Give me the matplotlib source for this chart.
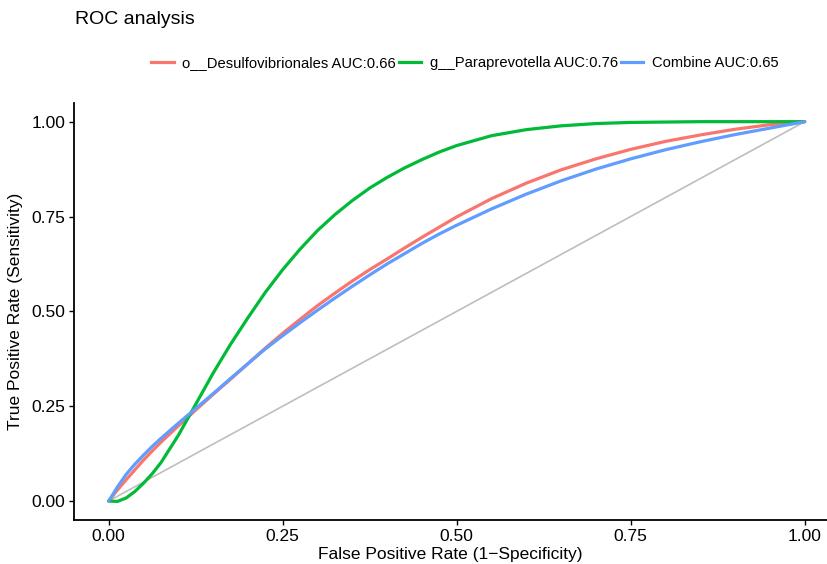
import matplotlib
matplotlib.use("Agg")
import matplotlib.pyplot as plt
from matplotlib.lines import Line2D

plt.rcParams['font.family'] = ['Liberation Sans', 'DejaVu Sans']

# ---- data ----
fpr = [0.0, 0.0125, 0.025, 0.0375, 0.05, 0.0625, 0.075, 0.1, 0.125, 0.15, 0.175,
       0.2, 0.225, 0.25, 0.275, 0.3, 0.325, 0.35, 0.375, 0.4, 0.425, 0.45,
       0.475, 0.5, 0.55, 0.6, 0.65, 0.7, 0.75, 0.8, 0.85, 0.9, 0.95, 1.0]

tpr_desulfo = [0.0, 0.029, 0.056, 0.082, 0.108, 0.132, 0.155, 0.198, 0.240, 0.281,
               0.321, 0.362, 0.403, 0.442, 0.479, 0.515, 0.548, 0.580, 0.610,
               0.638, 0.667, 0.695, 0.722, 0.749, 0.797, 0.838, 0.873, 0.902,
               0.927, 0.948, 0.965, 0.980, 0.992, 1.0]

tpr_para = [0.0, -0.001, 0.008, 0.025, 0.047, 0.072, 0.101, 0.173, 0.255, 0.337,
            0.413, 0.483, 0.550, 0.610, 0.664, 0.713, 0.755, 0.792, 0.825,
            0.853, 0.878, 0.900, 0.920, 0.937, 0.963, 0.979, 0.989, 0.995,
            0.998, 0.999, 1.0, 1.0, 1.0, 1.0]

tpr_combine = [0.0, 0.037, 0.070, 0.097, 0.121, 0.144, 0.165, 0.205, 0.244, 0.283,
               0.323, 0.362, 0.401, 0.436, 0.470, 0.503, 0.535, 0.566, 0.596,
               0.625, 0.652, 0.679, 0.704, 0.727, 0.770, 0.809, 0.844, 0.875,
               0.902, 0.926, 0.947, 0.966, 0.983, 1.0]

labels = ["o__Desulfovibrionales AUC:0.66",
          "g__Paraprevotella AUC:0.76",
          "Combine AUC:0.65"]
colors = ["#F8766D", "#00BA38", "#619CFF"]
ticks = [0.0, 0.25, 0.5, 0.75, 1.0]
tick_labels = ["0.00", "0.25", "0.50", "0.75", "1.00"]

W, H = 827, 564
fig = plt.figure(figsize=(W / 100, H / 100), dpi=100)

# axes in pixel geometry
ax_left, ax_right, ax_top, ax_bottom = 74.3, 827.0, 102.7, 520.0
ax = fig.add_axes([ax_left / W, 1 - ax_bottom / H,
                   (ax_right - ax_left) / W, (ax_bottom - ax_top) / H])

ax.plot([0, 1], [0, 1], color="#BEBEBE", lw=1.2, zorder=1)
for y, c in zip([tpr_desulfo, tpr_para, tpr_combine], colors):
    ax.plot(fpr, y, color=c, lw=2.3, solid_capstyle='round',
            solid_joinstyle='round', zorder=2)

x0px, x1px = 108.7, 804.7
ax.set_xlim((ax_left - x0px) / (x1px - x0px), (ax_right - x0px) / (x1px - x0px))
ax.set_ylim(-0.05, 1.05)
ax.set_xticks(ticks)
ax.set_xticklabels(tick_labels)
ax.set_yticks(ticks)
ax.set_yticklabels(tick_labels)
ax.tick_params(axis='both', labelsize=12.5, colors='black', length=3.5,
               width=1.0, pad=3)
for s in ['top', 'right']:
    ax.spines[s].set_visible(False)
for s in ['left', 'bottom']:
    ax.spines[s].set_linewidth(1.3)
ax.set_xlabel("False Positive Rate (1\u2212Specificity)", fontsize=12.5, labelpad=2)
ax.set_ylabel("True Positive Rate (Sensitivity)", fontsize=12.5, labelpad=6)

fig.text(75 / W, 1 - 20 / H, "ROC analysis", fontsize=14, va='center', ha='left')

handles = [Line2D([], [], color=c, lw=2.3) for c in colors]
fig.legend(handles, labels, loc='center', bbox_to_anchor=(465 / W, 1 - 63 / H),
           ncol=3, frameon=False, fontsize=10.6, handlelength=1.5,
           handletextpad=0.6, columnspacing=0.2, borderaxespad=0)

fig.savefig("out.png", dpi=100)
